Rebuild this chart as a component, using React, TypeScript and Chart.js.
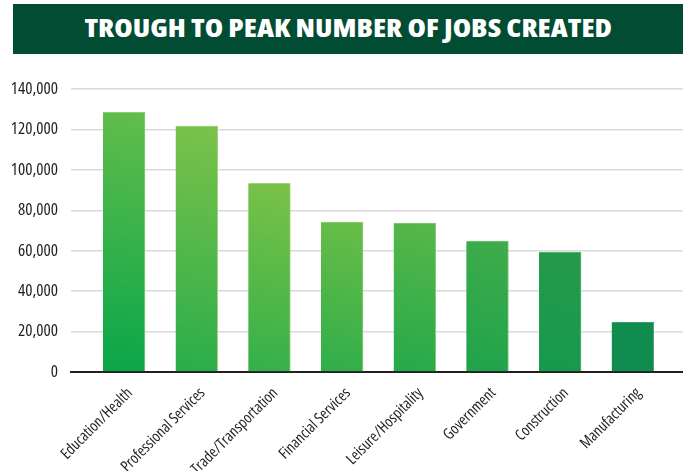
import React, { useEffect, useRef } from "react";
import { Chart, registerables } from "chart.js";

Chart.register(...registerables);

const title = "TROUGH TO PEAK NUMBER OF JOBS CREATED";
const categories = [
  "Education/Health",
  "Professional Services",
  "Trade/Transportation",
  "Financial Services",
  "Leisure/Hospitality",
  "Government",
  "Construction",
  "Manufacturing",
];
const jobsCreated = [128500, 121600, 93300, 74200, 73700, 64800, 59300, 24700];
const yMin = 0;
const yMax = 140000;
const yStep = 20000;
const barTopColors = ["#62bd4b", "#7bc24a", "#7ac246", "#6abd47", "#58b748", "#40ac4a", "#26994b", "#118c4f"];
const barBottomColors = ["#09a64a", "#2aad4a", "#33b04a", "#2fae4a", "#25a94b", "#1fa34c", "#169a4c", "#0e8b4f"];
const barEdgeColors = ["#8ad27a", "#9fd47a", "#9fd47a", "#92d07a", "#86cc7a", "#74c47e", "#5ab67e", "#4aa97e"];

const FONT = "'Open Sans', 'DejaVu Sans', sans-serif";
const TITLE_WIDTH = 527;

export default function App() {
  const canvasRef = useRef<HTMLCanvasElement | null>(null);
  const titleRef = useRef<HTMLSpanElement | null>(null);

  useEffect(() => {
    const span = titleRef.current;
    if (span) {
      const w = span.offsetWidth;
      if (w > 0) span.style.transform = `scaleX(${TITLE_WIDTH / w})`;
    }
    const canvas = canvasRef.current;
    if (!canvas) return;
    const chart = new Chart(canvas, {
      type: "bar",
      data: {
        datasets: [
          {
            data: jobsCreated.map((v, i) => ({ x: i, y: v })),
            barThickness: 42,
            backgroundColor: (ctx: any) => {
              const c = ctx.chart;
              const i = ctx.dataIndex;
              const area = c.chartArea;
              if (!area || i === undefined || !c.scales.x) return barBottomColors[i ?? 0];
              const xc = c.scales.x.getPixelForValue(i);
              const yt = c.scales.y.getPixelForValue(jobsCreated[i]);
              const g = c.ctx.createLinearGradient(xc - 21, area.bottom, xc + 21, yt);
              g.addColorStop(0, barBottomColors[i]);
              g.addColorStop(1, barTopColors[i]);
              return g;
            },
            borderColor: barEdgeColors,
            borderWidth: { top: 1, right: 1, left: 0, bottom: 0 },
            borderSkipped: false,
          },
        ],
      },
      options: {
        animation: false,
        responsive: false,
        maintainAspectRatio: false,
        layout: { padding: { top: 89, left: 0, right: 0, bottom: 0 } },
        plugins: {
          legend: { display: false },
          tooltip: { enabled: false },
          title: { display: false },
        },
        scales: {
          x: {
            type: "linear",
            min: -0.729,
            max: 7.692,
            offset: false,
            grid: { display: false, drawTicks: false },
            border: { display: true, color: "#231f20", width: 2 },
            afterBuildTicks: (axis: any) => {
              axis.ticks = categories.map((_, i) => ({ value: i }));
            },
            afterFit: (scale: any) => {
              scale.height = 99;
            },
            ticks: {
              autoSkip: false,
              minRotation: 45,
              maxRotation: 45,
              padding: 12,
              labelOffset: 6,
              color: "#231f20",
              font: { family: FONT, size: 15.5, weight: "400 condensed" as any },
              callback: (value: any) => categories[Math.round(Number(value))] ?? "",
            },
          },
          y: {
            min: yMin,
            max: yMax,
            grid: { color: "#d9d9d9", lineWidth: 1.5, drawTicks: false },
            border: { display: false },
            afterFit: (scale: any) => {
              scale.width = 71;
            },
            ticks: {
              stepSize: yStep,
              padding: 13,
              color: "#231f20",
              font: { family: FONT, size: 17, weight: "400 condensed" as any },
              callback: (value: any) => Number(value).toLocaleString("en-US"),
            },
          },
        },
      },
    });
    return () => chart.destroy();
  }, []);

  return (
    <div style={{ position: "absolute", left: 0, top: 0, width: 683, height: 471, background: "#ffffff", overflow: "hidden" }}>
      <canvas ref={canvasRef} width={683} height={471} style={{ position: "absolute", left: 0, top: 0, width: 683, height: 471 }} />
      <div
        style={{
          position: "absolute",
          left: 13,
          top: 4,
          width: 670,
          height: 50,
          background: "#024c33",
          display: "flex",
          alignItems: "center",
          justifyContent: "center",
        }}
      >
        <span
          ref={titleRef}
          style={{
            display: "inline-block",
            color: "#ffffff",
            fontFamily: "'Open Sans', sans-serif",
            fontStretch: "condensed",
            fontWeight: 800,
            fontSize: 25,
            lineHeight: "25px",
            marginTop: -4,
            whiteSpace: "nowrap",
            transformOrigin: "center center",
          }}
        >
          {title}
        </span>
      </div>
    </div>
  );
}
